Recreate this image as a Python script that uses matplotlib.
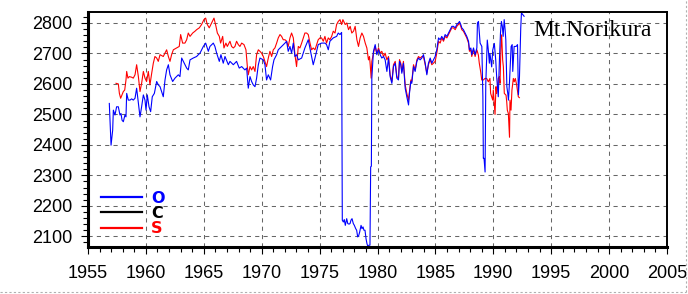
import matplotlib
matplotlib.use("Agg")
import matplotlib.pyplot as plt
from matplotlib.lines import Line2D

# O series (blue)
o_year = [1956.84, 1956.99, 1957.13, 1957.19, 1957.33, 1957.47, 1957.62, 1957.76, 1957.85, 1957.94,
          1958.05, 1958.19, 1958.28, 1958.34, 1958.48, 1958.63, 1958.77, 1958.91,
          1959.06, 1959.20, 1959.35, 1959.49, 1959.63, 1959.78, 1959.92,
          1960.01, 1960.12, 1960.27, 1960.41, 1960.55, 1960.73, 1960.93,
          1961.07, 1961.22, 1961.50, 1961.65, 1961.79, 1961.94,
          1962.08, 1962.31, 1962.51, 1962.80, 1962.94,
          1963.09, 1963.23, 1963.52, 1963.66, 1963.81,
          1964.09, 1964.38, 1964.53, 1964.67, 1964.96,
          1965.16, 1965.39, 1965.53, 1965.82, 1965.96,
          1966.11, 1966.34, 1966.48, 1966.68, 1966.83,
          1967.12, 1967.26, 1967.55, 1967.83,
          1968.06, 1968.27, 1968.55, 1968.70, 1968.84, 1968.99,
          1969.13, 1969.27, 1969.42, 1969.56, 1969.71, 1969.85,
          1970.14, 1970.28, 1970.42, 1970.57, 1970.77, 1970.94,
          1971.06, 1971.29, 1971.43, 1971.72,
          1972.01, 1972.15, 1972.29, 1972.44, 1972.58, 1972.73, 1972.87,
          1973.01, 1973.16, 1973.45, 1973.73,
          1974.02, 1974.25, 1974.45, 1974.60, 1974.88,
          1975.17, 1975.46, 1975.60, 1975.75, 1975.89,
          1976.18, 1976.47, 1976.61, 1976.76, 1976.90, 1976.93, 1976.96,
          1977.05, 1977.13, 1977.22, 1977.34, 1977.43, 1977.54, 1977.63, 1977.71, 1977.80, 1977.91,
          1978.00, 1978.12, 1978.20, 1978.29, 1978.38, 1978.46, 1978.58, 1978.66, 1978.75, 1978.83, 1978.92,
          1979.01, 1979.09, 1979.18, 1979.26, 1979.35, 1979.41, 1979.47, 1979.51, 1979.65, 1979.80, 1979.94,
          1980.09, 1980.23, 1980.37, 1980.52, 1980.66, 1980.81, 1980.95,
          1981.09, 1981.24, 1981.38, 1981.53, 1981.67, 1981.81, 1981.90,
          1982.01, 1982.10, 1982.24, 1982.39, 1982.53, 1982.68, 1982.76, 1982.88, 1982.96,
          1983.11, 1983.25, 1983.40, 1983.54, 1983.68, 1983.83, 1983.97,
          1984.12, 1984.26, 1984.40, 1984.55, 1984.69, 1984.83, 1984.98,
          1985.12, 1985.27, 1985.41, 1985.55, 1985.70, 1985.84, 1985.99,
          1986.13, 1986.27, 1986.42, 1986.56, 1986.71, 1986.85, 1986.99,
          1987.08, 1987.19, 1987.28, 1987.42, 1987.57, 1987.71, 1987.86, 1987.94,
          1988.06, 1988.14, 1988.29, 1988.43, 1988.58, 1988.63, 1988.72, 1988.81, 1988.86,
          1989.01, 1989.10, 1989.14, 1989.20, 1989.29, 1989.35, 1989.48, 1989.57, 1989.66, 1989.71, 1989.86, 1989.95,
          1990.09, 1990.21, 1990.29, 1990.38, 1990.43, 1990.53, 1990.62, 1990.70, 1990.78, 1990.85, 1990.94,
          1991.02, 1991.08, 1991.17, 1991.25, 1991.31, 1991.40, 1991.45, 1991.54, 1991.63, 1991.68, 1991.74, 1991.80, 1991.97,
          1992.09, 1992.17, 1992.26, 1992.32, 1992.37, 1992.43, 1992.55, 1992.66]
o_val = [2536, 2399, 2448, 2514, 2498, 2525, 2525, 2498, 2503, 2481,
         2476, 2498, 2492, 2569, 2547, 2547, 2551, 2547,
         2553, 2586, 2536, 2492, 2525, 2564, 2547,
         2514, 2564, 2525, 2509, 2558, 2569, 2608,
         2597, 2591, 2558, 2613, 2646, 2663,
         2630, 2608, 2619, 2630, 2624,
         2685, 2674, 2652, 2646, 2679,
         2685, 2690, 2696, 2701, 2723,
         2734, 2707, 2723, 2734, 2723,
         2701, 2674, 2696, 2668, 2690,
         2663, 2674, 2663, 2674,
         2652, 2657, 2646, 2652, 2586, 2624,
         2608, 2597, 2591, 2619, 2663, 2685,
         2679, 2663, 2613, 2630, 2613, 2657,
         2679, 2696, 2712, 2723,
         2734, 2740, 2707, 2723, 2701, 2734, 2690,
         2696, 2679, 2685, 2718,
         2745, 2701, 2663, 2685, 2729,
         2734, 2734, 2729, 2712, 2740,
         2751, 2756, 2767, 2762, 2769, 2460, 2153,
         2147, 2155, 2136, 2158, 2142, 2140, 2142, 2153, 2158, 2142,
         2136, 2125, 2120, 2098, 2103, 2114, 2136, 2125, 2131, 2120, 2120,
         2092, 2076, 2065, 2071, 2071, 2328, 2330, 2619, 2707, 2729, 2696,
         2712, 2696, 2685, 2690, 2679, 2641, 2685,
         2624, 2602, 2657, 2668, 2619, 2613, 2674,
         2663, 2635, 2668, 2586, 2558, 2531, 2569, 2608, 2602,
         2657, 2641, 2674, 2685, 2679, 2685, 2696,
         2668, 2630, 2668, 2685, 2668, 2679, 2690,
         2712, 2751, 2745, 2756, 2745, 2762, 2756,
         2767, 2778, 2789, 2789, 2784, 2795, 2800,
         2805, 2795, 2784, 2778, 2767, 2756, 2740, 2712,
         2718, 2696, 2718, 2696, 2718, 2800, 2805, 2756, 2734,
         2723, 2558, 2356, 2356, 2311, 2600, 2744, 2711, 2668, 2700, 2656, 2711,
         2733, 2678, 2624, 2580, 2558, 2680, 2767, 2805, 2789, 2756, 2811,
         2778, 2745, 2591, 2569, 2547, 2608, 2652, 2723, 2729, 2641, 2679, 2723, 2723,
         2729, 2564, 2624, 2712, 2783, 2833, 2827, 2822]

# S series (red)
s_year = [1957.42, 1957.62, 1957.71, 1957.82, 1957.94,
          1958.05, 1958.17, 1958.28, 1958.34, 1958.45, 1958.57, 1958.77, 1958.91,
          1959.06, 1959.20, 1959.35, 1959.49, 1959.63, 1959.78, 1959.92,
          1960.06, 1960.21, 1960.35, 1960.50, 1960.64, 1960.78, 1960.93,
          1961.07, 1961.22, 1961.50, 1961.65, 1961.79, 1961.94,
          1962.08, 1962.22, 1962.37, 1962.65, 1962.88,
          1963.00, 1963.17, 1963.37, 1963.52, 1963.66, 1963.81,
          1964.04, 1964.24, 1964.38, 1964.61, 1964.81,
          1965.01, 1965.16, 1965.30, 1965.47, 1965.68, 1965.88,
          1966.05, 1966.17, 1966.34, 1966.45, 1966.63, 1966.74, 1966.91,
          1967.03, 1967.26, 1967.40, 1967.55, 1967.69, 1967.83, 1967.98,
          1968.12, 1968.27, 1968.47, 1968.64, 1968.76, 1968.84, 1968.99,
          1969.13, 1969.27, 1969.42, 1969.56, 1969.71, 1969.85, 1969.99,
          1970.14, 1970.28, 1970.42, 1970.57, 1970.71, 1970.86,
          1971.00, 1971.14, 1971.29, 1971.43, 1971.58, 1971.72, 1971.86,
          1972.01, 1972.15, 1972.29, 1972.44, 1972.58, 1972.73, 1972.87,
          1973.01, 1973.16, 1973.30, 1973.45, 1973.59, 1973.73, 1973.88,
          1974.02, 1974.17, 1974.31, 1974.45, 1974.60, 1974.74, 1974.88,
          1975.03, 1975.17, 1975.32, 1975.46, 1975.60, 1975.75, 1975.89,
          1976.04, 1976.18, 1976.33, 1976.47, 1976.61, 1976.76, 1976.90,
          1977.01, 1977.21, 1977.35, 1977.50, 1977.64, 1977.78, 1977.93,
          1978.07, 1978.22, 1978.36, 1978.50, 1978.65, 1978.79, 1978.94,
          1979.08, 1979.22, 1979.31, 1979.37, 1979.45, 1979.51, 1979.65, 1979.80, 1979.94,
          1980.09, 1980.23, 1980.37, 1980.52, 1980.66, 1980.81, 1980.95,
          1981.09, 1981.24, 1981.38, 1981.53, 1981.67, 1981.81, 1981.90,
          1982.01, 1982.10, 1982.24, 1982.39, 1982.53, 1982.68, 1982.76, 1982.88, 1982.96,
          1983.11, 1983.25, 1983.40, 1983.54, 1983.68, 1983.83, 1983.97,
          1984.12, 1984.26, 1984.40, 1984.55, 1984.69, 1984.83, 1984.98,
          1985.12, 1985.27, 1985.41, 1985.55, 1985.70, 1985.84, 1985.99,
          1986.13, 1986.27, 1986.42, 1986.56, 1986.71, 1986.85, 1986.99,
          1987.08, 1987.19, 1987.28, 1987.42, 1987.57, 1987.71, 1987.86, 1987.94,
          1988.06, 1988.14, 1988.29, 1988.43, 1988.58, 1988.71, 1988.79, 1988.91,
          1989.00, 1989.14, 1989.28, 1989.43, 1989.57, 1989.71, 1989.77, 1989.86, 1989.95,
          1990.00, 1990.06, 1990.15, 1990.23, 1990.29, 1990.43, 1990.52, 1990.58, 1990.66, 1990.72, 1990.81, 1990.87, 1990.95,
          1991.10, 1991.16, 1991.21, 1991.30, 1991.40, 1991.44, 1991.53, 1991.61, 1991.73, 1991.81, 1991.90,
          1992.02, 1992.16, 1992.25]
s_val = [2602, 2600, 2569, 2553, 2564,
         2575, 2580, 2613, 2641, 2619, 2624, 2622, 2619,
         2630, 2663, 2624, 2575, 2602, 2641, 2619,
         2608, 2641, 2597, 2635, 2668, 2690, 2685,
         2674, 2696, 2690, 2701, 2712, 2690,
         2674, 2696, 2712, 2718, 2723,
         2762, 2734, 2734, 2745, 2767, 2756,
         2767, 2773, 2778, 2784, 2795,
         2811, 2816, 2795, 2784, 2800, 2816,
         2789, 2767, 2756, 2734, 2756, 2718, 2734,
         2723, 2740, 2723, 2718, 2723, 2740, 2729,
         2723, 2734, 2729, 2712, 2657, 2630, 2657,
         2646, 2657, 2641, 2696, 2712, 2707, 2701,
         2690, 2674, 2657, 2685, 2707, 2690,
         2712, 2718, 2734, 2751, 2762, 2756, 2745,
         2745, 2740, 2723, 2751, 2767, 2751, 2696,
         2657, 2723, 2718, 2734, 2751, 2767, 2767,
         2762, 2734, 2712, 2718, 2712, 2729, 2745,
         2751, 2751, 2740, 2756, 2734, 2751, 2745,
         2756, 2773, 2767, 2795, 2805, 2811, 2795,
         2811, 2795, 2800, 2778, 2789, 2767, 2773,
         2789, 2745, 2723, 2751, 2767, 2756, 2734,
         2718, 2679, 2690, 2663, 2619, 2674, 2701, 2723, 2701,
         2718, 2701, 2707, 2690, 2701, 2679, 2690,
         2630, 2608, 2663, 2674, 2624, 2619, 2680,
         2668, 2641, 2674, 2597, 2569, 2547, 2575, 2613, 2608,
         2663, 2646, 2679, 2690, 2685, 2690, 2690,
         2663, 2635, 2663, 2680, 2663, 2668, 2674,
         2701, 2740, 2734, 2751, 2740, 2756, 2751,
         2762, 2773, 2784, 2784, 2778, 2789, 2795,
         2800, 2789, 2778, 2773, 2762, 2751, 2734, 2707,
         2712, 2690, 2712, 2690, 2712, 2695, 2668, 2640,
         2613, 2613, 2618, 2618, 2607, 2618, 2569, 2558, 2547,
         2580, 2547, 2500, 2591, 2569, 2618, 2624, 2602, 2722, 2761, 2678, 2656, 2569,
         2563, 2541, 2514, 2503, 2425, 2547, 2514, 2580, 2618, 2607, 2618,
         2596, 2558, 2555]

# C series (black) shows only in the legend
c_year = []
c_val = []

x_ticks = [1955, 1960, 1965, 1970, 1975, 1980, 1985, 1990, 1995, 2000, 2005]
y_ticks = [2100, 2200, 2300, 2400, 2500, 2600, 2700, 2800]

fig = plt.figure(figsize=(6.88, 2.94), dpi=100)
ax = fig.add_axes([88 / 688, 1 - 247 / 294, 579 / 688, 235 / 294])

ax.plot(s_year, s_val, color='#ff0000', lw=0.8, label='S')
ax.plot(c_year, c_val, color='black', lw=0.8, label='C')
ax.plot(o_year, o_val, color='#0000ff', lw=0.8, label='O')

ax.set_xlim(1955, 2005)
ax.set_ylim(2065, 2836)
ax.set_xticks(x_ticks)
ax.set_yticks(y_ticks)
ax.set_xticks(range(1955, 2006), minor=True)
ax.set_yticks(range(2080, 2836, 20), minor=True)

ax.grid(True, which='major', color='#666666', lw=0.75, ls=(0, (4, 4)))
ax.tick_params(which='major', direction='out', length=5, width=0.8,
               labelsize=13, pad=6)
ax.tick_params(axis='x', which='major', pad=8)
ax.tick_params(which='minor', direction='out', length=3.5, width=0.8)
for lab in ax.get_xticklabels() + ax.get_yticklabels():
    lab.set_fontfamily('Liberation Sans')

ax.spines['left'].set_linewidth(2.2)
ax.spines['bottom'].set_linewidth(2.2)
ax.spines['top'].set_linewidth(1.4)
ax.spines['right'].set_linewidth(1.4)

h, l = ax.get_legend_handles_labels()
leg = ax.legend(h[::-1], l[::-1], loc='lower left', bbox_to_anchor=(-0.003, -0.015),
                frameon=False, handlelength=2.6, handletextpad=0.55,
                labelspacing=0.02, borderaxespad=0.5,
                prop={'family': 'DejaVu Sans', 'weight': 'bold', 'size': 11.5},
                labelcolor='linecolor')
for ln in leg.get_lines():
    ln.set_linewidth(1.6)

ax.text(0.770, 0.899, 'Mt.Norikura', transform=ax.transAxes, va='baseline',
        ha='left', fontfamily='Liberation Serif', fontsize=17)

# faint outer border like the original image
fig.add_artist(Line2D([0, 686 / 688], [1 - 292 / 294] * 2, color='#b0b0b0', lw=0.8, ls=(0, (2, 2))))
fig.add_artist(Line2D([686 / 688] * 2, [1 - 292 / 294, 1], color='#b0b0b0', lw=0.8, ls=(0, (2, 2))))

fig.savefig('out.png', dpi=100)
